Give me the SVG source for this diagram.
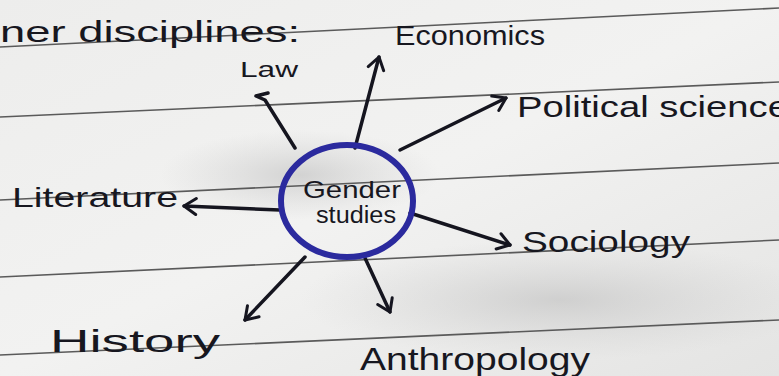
<svg xmlns="http://www.w3.org/2000/svg" width="779" height="376" viewBox="0 0 779 376">
<defs>
<linearGradient id="paper" x1="0" y1="0" x2="1" y2="1">
<stop offset="0" stop-color="#ededec"/>
<stop offset="0.5" stop-color="#f2f2f1"/>
<stop offset="1" stop-color="#e4e4e3"/>
</linearGradient>
<radialGradient id="shade" cx="0.5" cy="0.5" r="0.5">
<stop offset="0" stop-color="#b9b9b9" stop-opacity="0.55"/>
<stop offset="1" stop-color="#c8c8c8" stop-opacity="0"/>
</radialGradient>
<marker id="head" viewBox="0 0 20 20" refX="14" refY="10" markerWidth="20" markerHeight="20" markerUnits="userSpaceOnUse" orient="auto">
<polyline points="2,2 14,10 2,18" fill="none" stroke="#15151f" stroke-width="3" stroke-linecap="round" stroke-linejoin="round"/>
</marker>
<style>
.ink{font-family:"Liberation Sans","DejaVu Sans",sans-serif;fill:#17171f;}
.rule{stroke:#5a5a5a;stroke-width:1.6;fill:none;}
.arrow{stroke:#15151f;stroke-width:3.5;fill:none;stroke-linecap:round;marker-end:url(#head);}
</style>
</defs>
<rect width="779" height="376" fill="url(#paper)"/>
<ellipse cx="560" cy="300" rx="260" ry="60" fill="url(#shade)"/>
<ellipse cx="300" cy="175" rx="140" ry="45" fill="url(#shade)"/>
<g id="rules">
<line class="rule" x1="0" y1="47" x2="779" y2="8"/>
<line class="rule" x1="0" y1="117" x2="779" y2="82"/>
<line class="rule" x1="0" y1="200" x2="779" y2="163"/>
<line class="rule" x1="0" y1="277" x2="779" y2="240"/>
<line class="rule" x1="0" y1="355" x2="779" y2="320"/>
</g>
<text class="ink" x="0" y="42" font-size="30" textLength="300" lengthAdjust="spacingAndGlyphs">ner disciplines:</text>
<g id="connectors">
<line class="arrow" x1="355" y1="148" x2="379" y2="57"/>
<polyline points="295,148 265,100 256,96 268,93" fill="none" stroke="#15151f" stroke-width="3.5" stroke-linecap="round" stroke-linejoin="round"/>
<line class="arrow" x1="400" y1="150" x2="506" y2="98"/>
<line class="arrow" x1="280" y1="210" x2="184" y2="206"/>
<line class="arrow" x1="410" y1="213" x2="510" y2="245"/>
<line class="arrow" x1="305" y1="257" x2="245" y2="320"/>
<line class="arrow" x1="365" y1="258" x2="390" y2="312"/>
</g>
<g id="center">
<ellipse cx="347" cy="201" rx="66" ry="56" fill="none" stroke="#2b2a9e" stroke-width="6"/>
<text class="ink" x="303" y="198" font-size="24" textLength="98" lengthAdjust="spacingAndGlyphs">Gender</text>
<text class="ink" x="316" y="223" font-size="23" textLength="80" lengthAdjust="spacingAndGlyphs">studies</text>
</g>
<g id="economics"><text class="ink" x="395" y="45" font-size="27" textLength="150" lengthAdjust="spacingAndGlyphs">Economics</text></g>
<g id="law"><text class="ink" x="240" y="77" font-size="22" textLength="58" lengthAdjust="spacingAndGlyphs">Law</text></g>
<g id="political"><text class="ink" x="517" y="117" font-size="30" textLength="272" lengthAdjust="spacingAndGlyphs">Political science</text></g>
<g id="literature"><text class="ink" x="12" y="207" font-size="28" textLength="166" lengthAdjust="spacingAndGlyphs">Literature</text></g>
<g id="sociology"><text class="ink" x="522" y="252" font-size="30" textLength="168" lengthAdjust="spacingAndGlyphs">Sociology</text></g>
<g id="history"><text class="ink" x="50" y="352" font-size="32" textLength="170" lengthAdjust="spacingAndGlyphs">History</text></g>
<g id="anthropology"><text class="ink" x="360" y="370" font-size="32" textLength="230" lengthAdjust="spacingAndGlyphs">Anthropology</text></g>
</svg>
